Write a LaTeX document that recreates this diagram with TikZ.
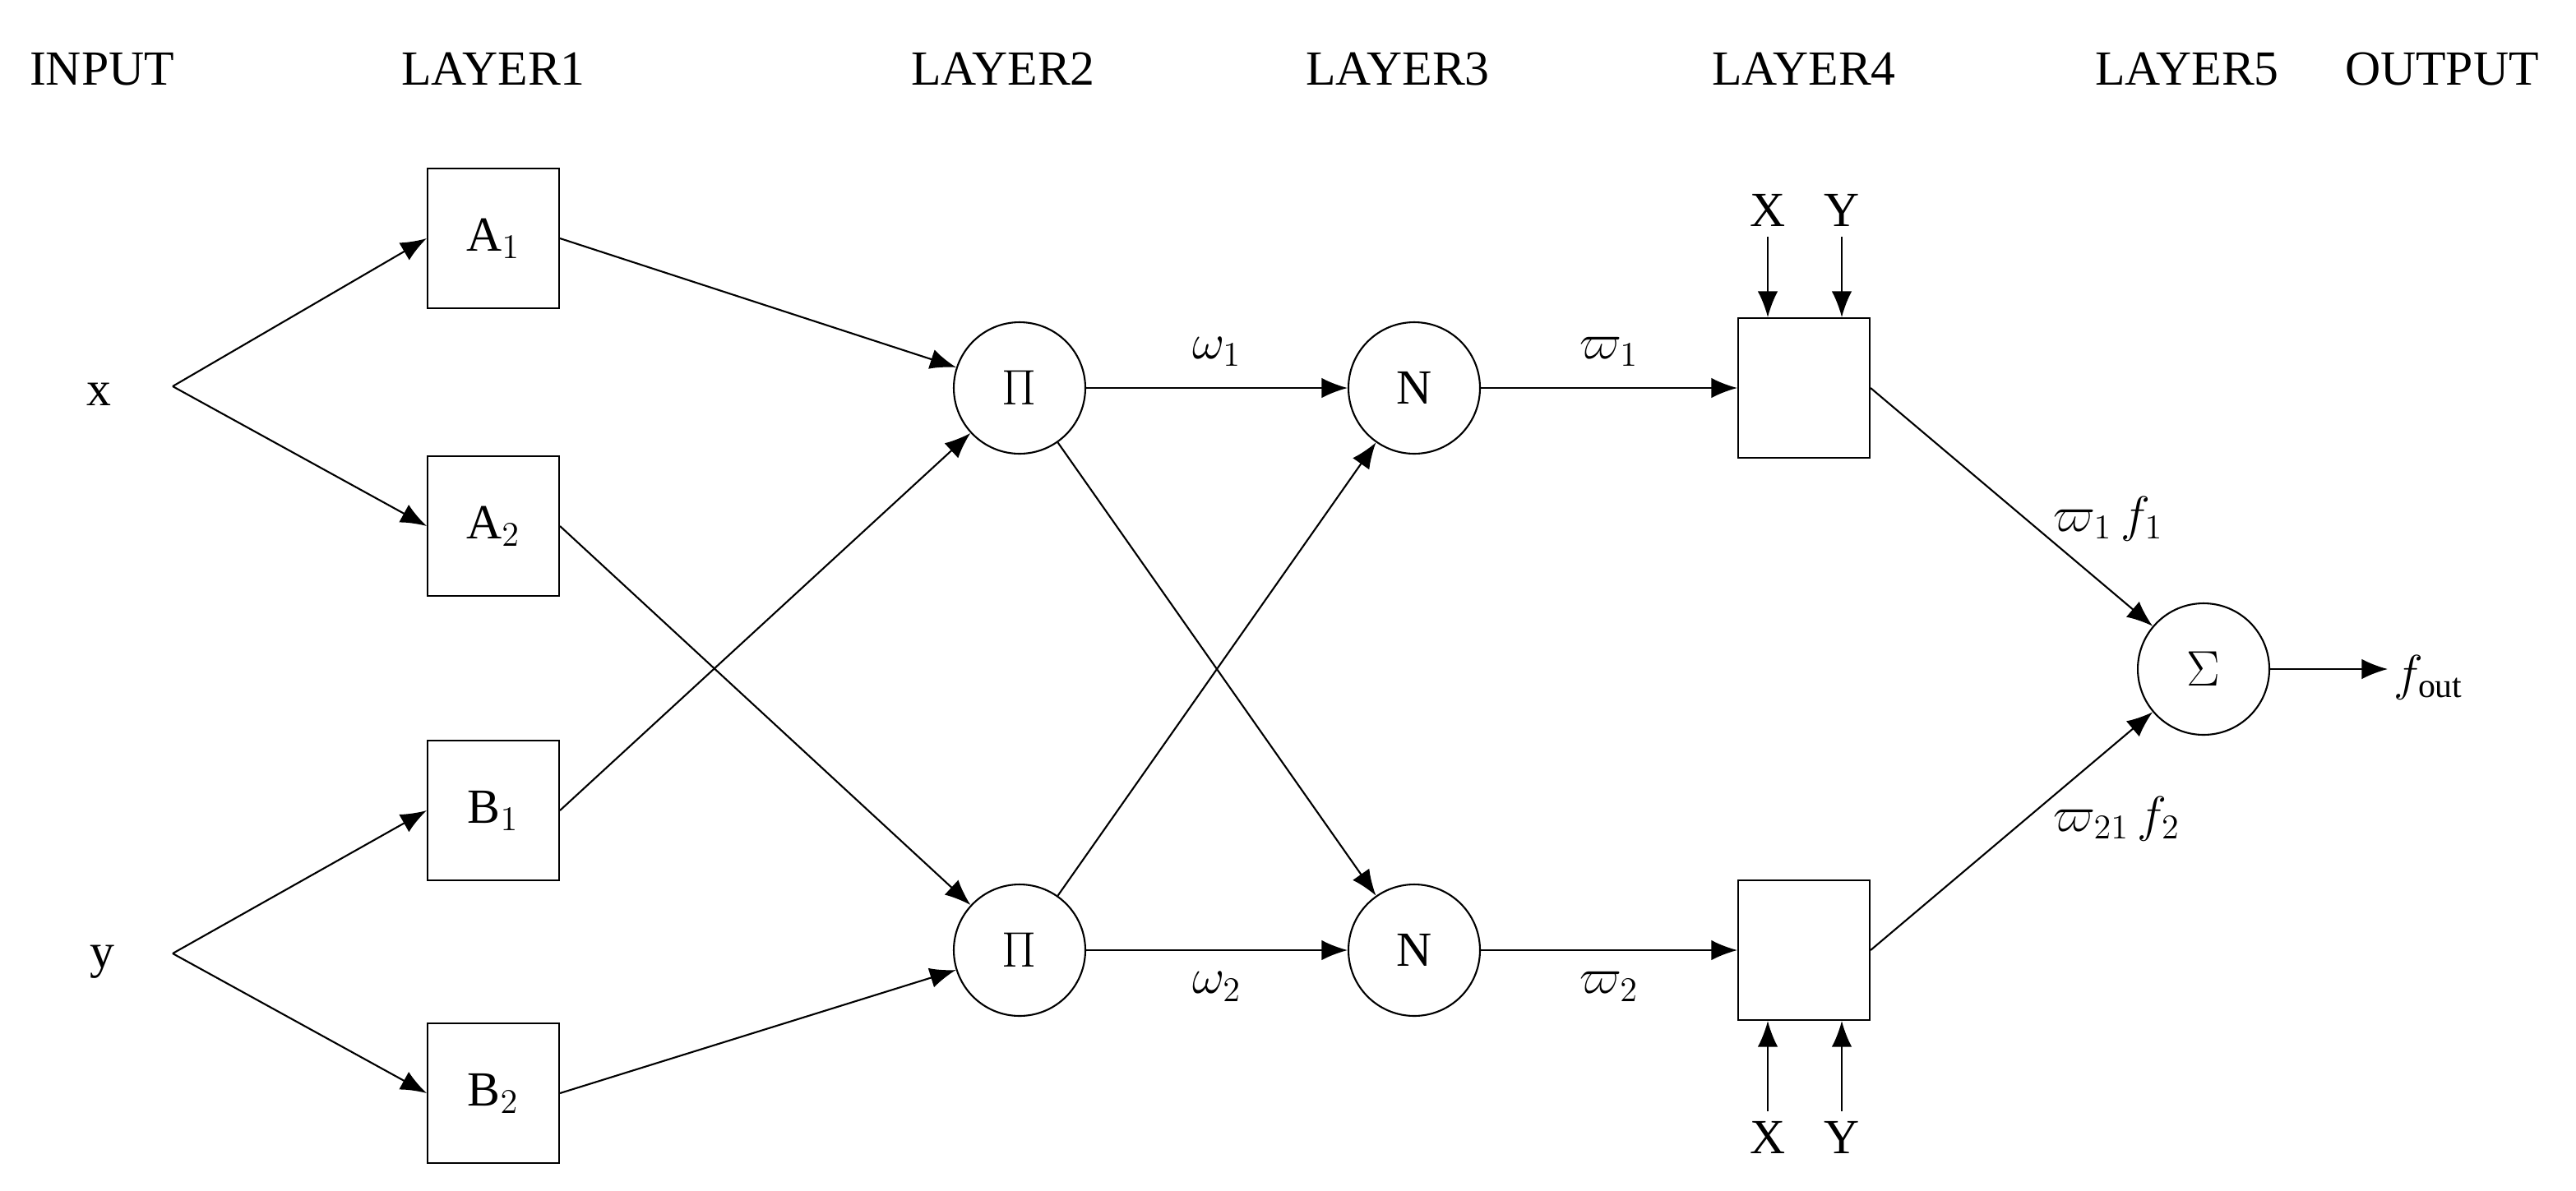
\documentclass[tikz,border=0pt]{standalone}
\usepackage{fontspec}
\setmainfont{Liberation Serif}
\usetikzlibrary{arrows.meta}
\begin{document}
\begin{tikzpicture}[x=0.02cm,y=-0.02cm,
  every node/.style={font=\fontsize{17}{20}\selectfont},
  box/.style={draw,line width=0.6pt,minimum width=1.6cm,minimum height=1.7cm,inner sep=0pt},
  circ/.style={draw,circle,line width=0.6pt,minimum size=1.6cm,inner sep=0pt},
  arr/.style={line width=0.6pt,-{Latex[length=9pt,width=7pt]}},
  ln/.style={line width=0.6pt}]
\useasboundingbox (0,0) rectangle (1566.5,724);
\node (h0) at (62,42) {INPUT};
\node (h1) at (300,42) {LAYER1};
\node (h2) at (610,42) {LAYER2};
\node (h3) at (850,42) {LAYER3};
\node (h4) at (1097,42) {LAYER4};
\node (h5) at (1330,42) {LAYER5};
\node (h6) at (1485,42) {OUTPUT};
\node (x) at (60,240) {x};
\node (y) at (62,585) {y};
\coordinate (fx) at (105,235);
\coordinate (fy) at (105,580);
\node[box] (A1) at (300,145) {A$_1$};
\node[box] (A2) at (300,320) {A$_2$};
\node[box] (B1) at (300,493) {B$_1$};
\node[box] (B2) at (300,665) {B$_2$};
\node[circ] (P1) at (620,236) {$\Pi$};
\node[circ] (P2) at (620,578) {$\Pi$};
\node[circ] (N1) at (860,236) {N};
\node[circ] (N2) at (860,578) {N};
\node[box] (L1) at (1097,236) {};
\node[box] (L2) at (1097,578) {};
\node[circ] (S) at (1340,407) {$\Sigma$};
\node[anchor=west,inner sep=2pt] (fo) at (1452,412) {$f_{\mathrm{out}}$};
\draw[arr] (fx) -- (A1.west);
\draw[arr] (fx) -- (A2.west);
\draw[arr] (fy) -- (B1.west);
\draw[arr] (fy) -- (B2.west);
\draw[arr] (A1.east) -- (P1);
\draw[arr] (B1.east) -- (P1);
\draw[arr] (A2.east) -- (P2);
\draw[arr] (B2.east) -- (P2);
\draw[arr] (P1) -- node[above=4pt] {$\omega_1$} (N1);
\draw[arr] (P2) -- node[below=4pt] {$\omega_2$} (N2);
\draw[arr] (P1) -- (N2);
\draw[arr] (P2) -- (N1);
\draw[arr] (N1) -- node[above=4pt] {$\varpi_1$} (L1);
\draw[arr] (N2) -- node[below=4pt] {$\varpi_2$} (L2);
\draw[arr] (L1.east) -- node[pos=0.55,right=6pt] {$\varpi_1\,f_1$} (S);
\draw[arr] (L2.east) -- node[pos=0.55,right=6pt] {$\varpi_{21}\,f_2$} (S);
\draw[arr] (S.east) -- (S.east -| fo.west);
\node (X1) at (1075,128) {X};
\node (Y1) at (1120,128) {Y};
\node (X2) at (1075,692) {X};
\node (Y2) at (1120,692) {Y};
\draw[arr] (X1.south) -- (X1.south |- L1.north);
\draw[arr] (Y1.south) -- (Y1.south |- L1.north);
\draw[arr] (X2.north) -- (X2.north |- L2.south);
\draw[arr] (Y2.north) -- (Y2.north |- L2.south);
\end{tikzpicture}
\end{document}
